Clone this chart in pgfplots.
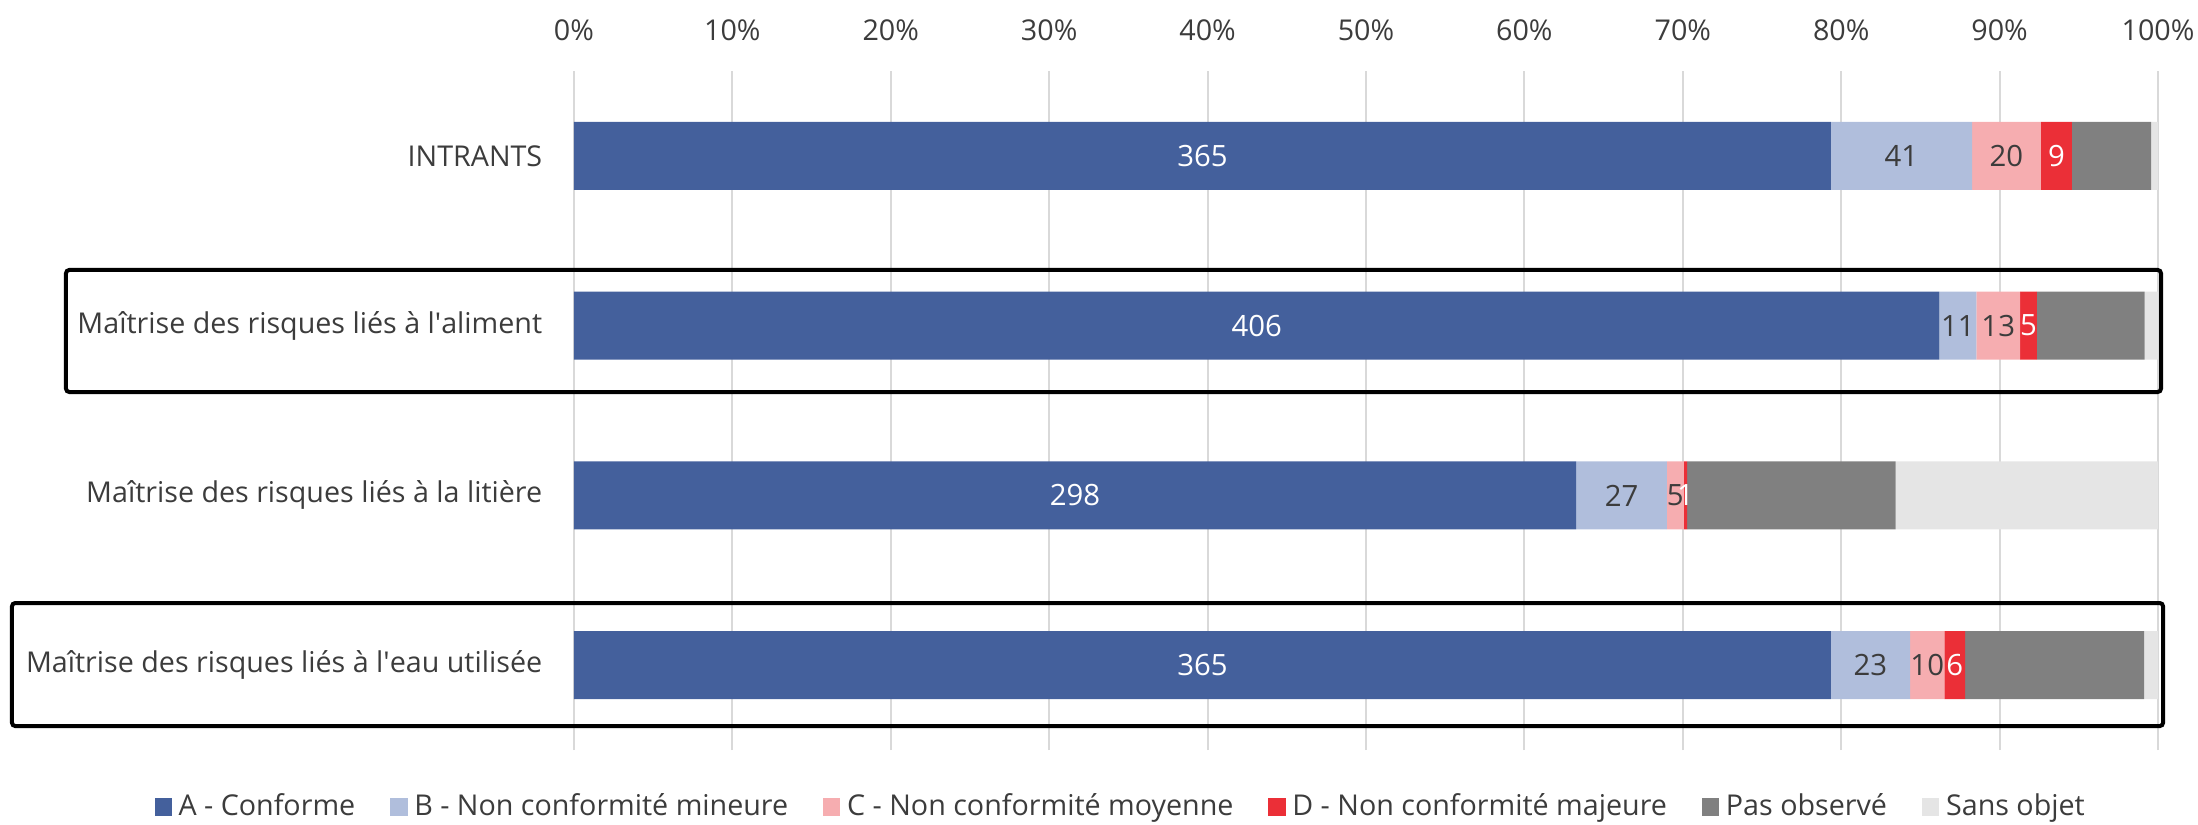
\documentclass[border=0pt]{standalone}
\usepackage{pgfplots}
\pgfplotsset{compat=1.18}
\usepackage{pgfplotstable}
\usepackage{fontspec}
\setmainfont{Open Sans}
\usetikzlibrary{calc}

\definecolor{cA}{HTML}{44609C}
\definecolor{cB}{HTML}{B0BEDC}
\definecolor{cC}{HTML}{F6ADB0}
\definecolor{cD}{HTML}{EB2F37}
\definecolor{cP}{HTML}{808080}
\definecolor{cS}{HTML}{E5E5E5}
\definecolor{txt}{HTML}{3C3C3C}

% counts per category; T = total of the row
\pgfplotstableread{
row A B C D P S T
3 365 41 20 9 23 2 460
2 406 11 13 5 32 4 471
1 298 27 5 1 62 78 471
0 365 23 10 6 52 4 460
}\data

\pgfplotsset{
  lab/.style={
    nodes near coords, point meta=explicit,
    every node near coord/.append style={anchor=center, text=#1, font=\fontsize{8.8}{10}\selectfont}
  }
}

\begin{document}
\begin{tikzpicture}
\begin{axis}[
  name=ax,
  xbar stacked,
  bar width=20.4pt,
  scale only axis,
  width=475.2pt, height=203.7pt,
  xmin=0, xmax=100,
  ymin=-0.5, ymax=3.5,
  xtick={0,10,...,100},
  xticklabel={\pgfmathprintnumber{\tick}\%},
  xticklabel pos=upper,
  xticklabel style={yshift=5.5pt, text=txt},
  ytick={0,1,2,3},
  yticklabels={Maîtrise des risques liés à l\textquotesingle eau utilisée, Maîtrise des risques liés à la litière, Maîtrise des risques liés à l\textquotesingle aliment, INTRANTS},
  yticklabel style={xshift=-6pt, text=txt},
  tick label style={font=\fontsize{8.6}{10}\selectfont},
  /pgf/number format/assume math mode=true,
  xmajorgrids, grid style={draw=black!15, line width=0.6pt},
  axis line style={draw=none},
  major tick length=0pt,
  clip=false,
  legend columns=6,
  legend style={draw=none, at={(0.3466,-0.0838)}, anchor=center,
    font=\fontsize{8.6}{10}\selectfont, text=txt,
    /tikz/every even column/.append style={column sep=8.5pt}},
  legend image code/.code={\fill[#1] (0pt,-2.6pt) rectangle (5.2pt,2.6pt);},
]
\addplot[fill=cA, draw=none, lab=white] table[x expr=\thisrow{A}/\thisrow{T}*100, y=row, meta=A] {\data};
\addplot[fill=cB, draw=none, lab=txt] table[x expr=\thisrow{B}/\thisrow{T}*100, y=row, meta=B] {\data};
\addplot[fill=cC, draw=none, lab=txt] table[x expr=\thisrow{C}/\thisrow{T}*100, y=row, meta=C] {\data};
\addplot[fill=cD, draw=none, lab=white] table[x expr=\thisrow{D}/\thisrow{T}*100, y=row, meta=D] {\data};
\addplot[fill=cP, draw=none] table[x expr=\thisrow{P}/\thisrow{T}*100, y=row] {\data};
\addplot[fill=cS, draw=none] table[x expr=\thisrow{S}/\thisrow{T}*100, y=row] {\data};
\legend{A - Conforme, B - Non conformité mineure, C - Non conformité moyenne, D - Non conformité majeure, Pas observé, Sans objet}
% highlight frames
\draw[line width=1.2pt, rounded corners=1pt] (axis cs:-32.07,2.328) rectangle (axis cs:100.19,1.609);
\draw[line width=1.2pt, rounded corners=1pt] (axis cs:-35.48,0.366) rectangle (axis cs:100.32,-0.359);
\end{axis}
\pgfresetboundingbox
\path ($(ax.south west)+(-172.2pt,-22.2pt)$) rectangle ($(ax.north east)+(12pt,21.3pt)$);
\end{tikzpicture}
\end{document}
